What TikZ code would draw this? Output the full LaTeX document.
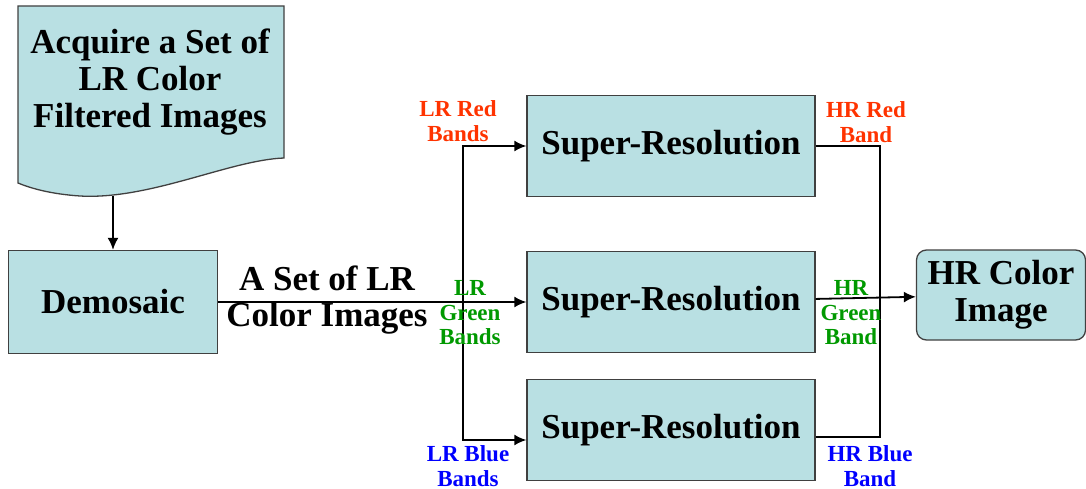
\documentclass[tikz,border=0pt]{standalone}
\usepackage{fontspec}
\setmainfont{Liberation Serif}
\usetikzlibrary{arrows.meta}
\definecolor{boxfill}{RGB}{185,224,227}
\definecolor{redband}{RGB}{255,51,0}
\definecolor{greenband}{RGB}{0,153,0}
\definecolor{blueband}{RGB}{0,0,255}

\begin{document}
\begin{tikzpicture}[x=1pt,y=-1pt,line width=1.3pt,
  box/.style={draw=black!75,fill=boxfill,line width=1.3pt,
    minimum width=288pt,minimum height=101pt,
    font=\fontsize{35}{37}\selectfont\bfseries},
  band/.style={font=\fontsize{23}{24.5}\selectfont\bfseries,
    align=center,inner sep=0pt},
  link/.style={line width=1.8pt,-{Latex[length=12pt,width=11pt]}}]
  \useasboundingbox (0,0) rectangle (1086,489);
  % input document
  \path[draw=black!75,fill=boxfill,line width=1.3pt] (18,6) -- (284,6) -- (284,158)
    .. controls (230,160) and (150,200) .. (80,196)
    .. controls (50,194) and (30,188) .. (18,183) -- cycle;
  \node[align=center,font=\fontsize{35}{37}\selectfont\bfseries] (acquire) at (150,82)
    {Acquire a Set of\\LR Color\\ Filtered Images};
  \coordinate (acqbot) at (113,196);
  \node[box,minimum width=209pt,minimum height=103pt] (demosaic) at (113,302) {Demosaic};
  \draw[link] (acqbot) -- (demosaic);
  % super-resolution per band
  \node[box] (sr1) at (671,146) {Super-Resolution};
  \node[box] (sr2) at (671,302) {Super-Resolution};
  \node[box] (sr3) at (671,430) {Super-Resolution};
  \node[box,rounded corners=10pt,minimum width=169pt,minimum height=90pt,align=center]
    (hrimage) at (1001,295) {HR Color\\Image};
  % connectors
  \coordinate (split) at (463,302);
  \coordinate (merge) at (880,302);
  \draw[link] (demosaic) -- (sr2);
  \draw[link] (split) |- (sr1.west);
  \draw[link] (split) |- ([yshift=-10pt]sr3.west);
  \draw (sr1.east) -| (merge);
  \draw ([yshift=-7pt]sr3.east) -| (merge);
  \draw[link] (sr2) -- (hrimage);
  % labels
  \node[align=center,font=\fontsize{35}{36}\selectfont\bfseries] (lrset) at (327,300)
    {A Set of LR\\Color Images};
  \node[band,text=redband] (lrred) at (458,121) {LR Red\\Bands};
  \node[band,text=greenband] (lrgreen) at (470,313) {LR\\Green\\Bands};
  \node[band,text=blueband] (lrblue) at (468,466) {LR Blue\\Bands};
  \node[band,text=redband] (hrred) at (866,122) {HR Red\\Band};
  \node[band,text=greenband] (hrgreen) at (851,313) {HR\\Green\\Band};
  \node[band,text=blueband] (hrblue) at (870,466) {HR Blue\\Band};
\end{tikzpicture}
\end{document}
